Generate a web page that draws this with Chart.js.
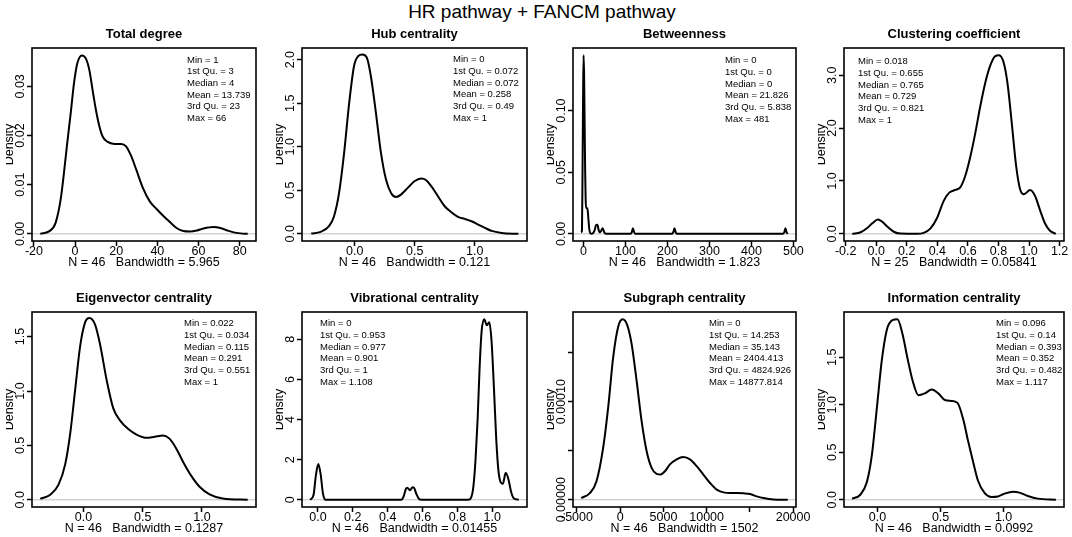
<!DOCTYPE html>
<html>
<head>
<meta charset="utf-8">
<title>HR pathway + FANCM pathway</title>
<script src="https://cdn.jsdelivr.net/npm/chart.js@4.4.1/dist/chart.umd.min.js"></script>
<style>
  html, body { margin: 0; padding: 0; background: #fff; }
  body { width: 1072px; height: 537px; overflow: hidden; position: relative; }
  #mainTitle {
    position: absolute; left: 6px; top: 1px; width: 1072px;
    text-align: center; font: 19px/22px "Liberation Sans", Arial, sans-serif; color: #000;
  }
  .panel { position: absolute; overflow: hidden; }
  .panel canvas { position: absolute; top: 0; }
</style>
</head>
<body>
<div id="mainTitle">HR pathway + FANCM pathway</div>
<script>
const FONT = '"Liberation Sans", Arial, sans-serif';

// ---- Total degree
const totalDegreeX = [-16.9, -12.7, -9.5, -7.0, -5.4, -3.8, -2.1, -0.5, 1.1, 3.3, 5.2, 6.9, 8.5, 10.1, 11.8, 13.4, 15.8, 19.1, 22.4, 24.8, 27.3, 29.7, 33.0, 36.3, 39.5, 42.8, 46.1, 49.3, 52.6, 55.9, 59.2, 62.4, 67.3, 70.6, 73.9, 77.1, 80.4, 83.9];
const totalDegreeY = [0.0000, 0.0005, 0.0022, 0.0070, 0.0124, 0.0185, 0.0246, 0.0307, 0.0347, 0.0363, 0.0357, 0.0334, 0.0293, 0.0253, 0.0219, 0.0198, 0.0187, 0.0183, 0.0183, 0.0178, 0.0158, 0.0131, 0.0093, 0.0066, 0.0051, 0.0037, 0.0024, 0.0012, 0.0006, 0.0005, 0.0007, 0.0011, 0.0014, 0.0012, 0.0007, 0.0003, 0.0001, 0.0000];
const totalDegreeXTicks = [-20, 0, 20, 40, 60, 80];
const totalDegreeXLabels = ['-20', '0', '20', '40', '60', '80'];
const totalDegreeYTicks = [0, 0.01, 0.02, 0.03];
const totalDegreeYLabels = ['0.00', '0.01', '0.02', '0.03'];
const totalDegreeStats = ['Min = 1', '1st Qu. = 3', 'Median = 4', 'Mean = 13.739', '3rd Qu. = 23', 'Max = 66'];

// ---- Hub centrality
const hubX = [-0.363, -0.285, -0.215, -0.173, -0.131, -0.089, -0.047, -0.006, 0.028, 0.064, 0.101, 0.134, 0.176, 0.218, 0.260, 0.302, 0.344, 0.385, 0.441, 0.497, 0.553, 0.595, 0.637, 0.693, 0.749, 0.804, 0.860, 0.916, 0.972, 1.028, 1.084, 1.140, 1.223, 1.363];
const hubY = [0.004, 0.023, 0.088, 0.203, 0.470, 0.929, 1.50, 1.93, 2.04, 2.06, 2.02, 1.81, 1.39, 0.929, 0.623, 0.470, 0.424, 0.451, 0.528, 0.604, 0.635, 0.616, 0.547, 0.432, 0.317, 0.249, 0.195, 0.172, 0.145, 0.107, 0.069, 0.034, 0.011, 0.000];
const hubXTicks = [0, 0.5, 1];
const hubXLabels = ['0.0', '0.5', '1.0'];
const hubYTicks = [0, 0.5, 1, 1.5, 2];
const hubYLabels = ['0.0', '0.5', '1.0', '1.5', '2.0'];
const hubStats = ['Min = 0', '1st Qu. = 0.072', 'Median = 0.072', 'Mean = 0.258', '3rd Qu. = 0.49', 'Max = 1'];

// ---- Betweenness
const betweenX = [-5.5, -3.8, -2.5, -1.2, 0, 1.2, 2.5, 3.8, 5.0, 6.0, 8.0, 9.8, 11.5, 13.5, 16, 20, 26, 30, 33, 36, 38.5, 42, 45.5, 49, 52, 55, 112, 115, 117.6, 120.2, 123, 211, 214, 216.7, 219.4, 222, 475, 478.5, 481, 483.5, 486.5];
const betweenY = [0.001, 0.003, 0.05, 0.11, 0.145, 0.13, 0.09, 0.05, 0.027, 0.021, 0.021, 0.019, 0.012, 0.004, 0.0005, 0.0001, 0.0025, 0.0072, 0.0073, 0.003, 0.0012, 0.0025, 0.0045, 0.0015, 0.0002, 0, 0, 0.0015, 0.0046, 0.0015, 0, 0, 0.0015, 0.0046, 0.0015, 0, 0, 0.0015, 0.0046, 0.0015, 0];
const betweenXTicks = [0, 100, 200, 300, 400, 500];
const betweenXLabels = ['0', '100', '200', '300', '400', '500'];
const betweenYTicks = [0, 0.05, 0.10];
const betweenYLabels = ['0.00', '0.05', '0.10'];
const betweenStats = ['Min = 0', '1st Qu. = 0', 'Median = 0', 'Mean = 21.826', '3rd Qu. = 5.838', 'Max = 481'];

// ---- Clustering coefficient
const clusterX = [-0.157, -0.102, -0.059, -0.026, 0.011, 0.039, 0.072, 0.115, 0.159, 0.267, 0.311, 0.354, 0.398, 0.441, 0.478, 0.517, 0.550, 0.583, 0.615, 0.648, 0.680, 0.713, 0.746, 0.778, 0.804, 0.833, 0.859, 0.887, 0.915, 0.941, 0.967, 1.007, 1.039, 1.072, 1.104, 1.137, 1.175];
const clusterY = [0, 0.03, 0.11, 0.20, 0.27, 0.23, 0.14, 0.04, 0.005, 0, 0.02, 0.10, 0.30, 0.62, 0.78, 0.83, 0.88, 1.10, 1.45, 1.90, 2.40, 2.85, 3.18, 3.36, 3.38, 3.25, 2.85, 2.10, 1.30, 0.85, 0.75, 0.83, 0.72, 0.45, 0.20, 0.06, 0];
const clusterXTicks = [-0.2, 0, 0.2, 0.4, 0.6, 0.8, 1.0, 1.2];
const clusterXLabels = ['-0.2', '0.0', '0.2', '0.4', '0.6', '0.8', '1.0', '1.2'];
const clusterYTicks = [0, 1, 2, 3];
const clusterYLabels = ['0.0', '1.0', '2.0', '3.0'];
const clusterStats = ['Min = 0.018', '1st Qu. = 0.655', 'Median = 0.765', 'Mean = 0.729', '3rd Qu. = 0.821', 'Max = 1'];

// ---- Eigenvector centrality
const eigenX = [-0.364, -0.280, -0.210, -0.154, -0.112, -0.070, -0.028, 0.014, 0.050, 0.098, 0.140, 0.196, 0.252, 0.308, 0.378, 0.448, 0.532, 0.602, 0.672, 0.728, 0.784, 0.840, 0.910, 0.980, 1.064, 1.176, 1.386];
const eigenY = [0.009, 0.047, 0.140, 0.326, 0.606, 1.01, 1.41, 1.63, 1.67, 1.61, 1.43, 1.10, 0.84, 0.73, 0.65, 0.60, 0.57, 0.58, 0.59, 0.56, 0.47, 0.35, 0.22, 0.12, 0.05, 0.012, 0];
const eigenXTicks = [0, 0.5, 1];
const eigenXLabels = ['0.0', '0.5', '1.0'];
const eigenYTicks = [0, 0.5, 1, 1.5];
const eigenYLabels = ['0.0', '0.5', '1.0', '1.5'];
const eigenStats = ['Min = 0.022', '1st Qu. = 0.034', 'Median = 0.115', 'Mean = 0.291', '3rd Qu. = 0.551', 'Max = 1'];

// ---- Vibrational centrality
const vibX = [-0.044, -0.025, -0.012, 0.002, 0.015, 0.029, 0.044, 0.478, 0.491, 0.505, 0.512, 0.528, 0.543, 0.551, 0.564, 0.580, 0.593, 0.862, 0.877, 0.891, 0.904, 0.916, 0.927, 0.939, 0.954, 0.969, 0.983, 0.996, 1.010, 1.023, 1.036, 1.050, 1.061, 1.077, 1.092, 1.108, 1.123, 1.152];
const vibY = [0, 0.25, 1.20, 1.78, 1.30, 0.30, 0, 0, 0.15, 0.55, 0.60, 0.48, 0.62, 0.60, 0.30, 0.04, 0, 0, 0.08, 0.60, 2.00, 4.00, 6.50, 8.40, 9.00, 8.70, 8.85, 7.90, 5.50, 3.00, 1.40, 0.85, 0.80, 1.35, 1.05, 0.40, 0.08, 0];
const vibXTicks = [0, 0.2, 0.4, 0.6, 0.8, 1.0];
const vibXLabels = ['0.0', '0.2', '0.4', '0.6', '0.8', '1.0'];
const vibYTicks = [0, 2, 4, 6, 8];
const vibYLabels = ['0', '2', '4', '6', '8'];
const vibStats = ['Min = 0', '1st Qu. = 0.953', 'Median = 0.977', 'Mean = 0.901', '3rd Qu. = 1', 'Max = 1.108'];

// ---- Subgraph centrality
const subgraphX = [-4506, -3516, -2743, -1971, -1391, -811, -232, 270, 811, 1314, 1893, 2473, 3053, 3632, 4212, 4675, 5178, 5757, 6530, 7303, 8076, 8849, 9621, 10394, 11167, 11940, 12713, 13485, 14258, 15031, 15804, 16577, 17736, 19384];
const subgraphY = [1.7e-6, 6.8e-6, 1.88e-5, 5.31e-5, 9.42e-5, 1.455e-4, 1.764e-4, 1.839e-4, 1.781e-4, 1.592e-4, 1.216e-4, 8.05e-5, 4.97e-5, 3.25e-5, 2.64e-5, 2.57e-5, 2.91e-5, 3.60e-5, 4.11e-5, 4.35e-5, 4.11e-5, 3.42e-5, 2.57e-5, 1.71e-5, 1.03e-5, 7.5e-6, 6.8e-6, 6.8e-6, 6.5e-6, 5.8e-6, 3.4e-6, 1.7e-6, 3e-7, 0];
const subgraphXTicks = [-5000, 0, 5000, 10000, 15000, 20000];
const subgraphXLabels = ['-5000', '0', '5000', '10000', '', '20000'];
const subgraphYTicks = [0, 0.00005, 0.0001, 0.00015];
const subgraphYLabels = ['0.00000', '', '0.00010', ''];
const subgraphStats = ['Min = 0', '1st Qu. = 14.253', 'Median = 35.143', 'Mean = 2404.413', '3rd Qu. = 4824.926', 'Max = 14877.814'];

// ---- Information centrality
const infoX = [-0.2016, -0.137, -0.084, -0.045, -0.005, 0.034, 0.074, 0.118, 0.158, 0.197, 0.239, 0.279, 0.324, 0.376, 0.429, 0.482, 0.534, 0.587, 0.634, 0.679, 0.718, 0.758, 0.797, 0.850, 0.903, 0.955, 1.008, 1.074, 1.126, 1.192, 1.271, 1.4146];
const infoY = [0.011, 0.053, 0.19, 0.47, 0.97, 1.47, 1.79, 1.89, 1.90, 1.75, 1.48, 1.25, 1.10, 1.12, 1.16, 1.12, 1.05, 1.04, 1.02, 0.85, 0.62, 0.40, 0.20, 0.07, 0.03, 0.035, 0.065, 0.085, 0.075, 0.04, 0.012, 0];
const infoXTicks = [0, 0.5, 1];
const infoXLabels = ['0.0', '0.5', '1.0'];
const infoYTicks = [0, 0.5, 1, 1.5];
const infoYLabels = ['0.0', '0.5', '1.0', '1.5'];
const infoStats = ['Min = 0.096', '1st Qu. = 0.14', 'Median = 0.393', 'Mean = 0.352', '3rd Qu. = 0.482', 'Max = 1.117'];

// panel layout (plot box edges in page pixels)
const colBoxLeft = [32, 302, 573, 844];
const colBoxRight = [256, 527, 796, 1064];
const rowBoxTop = [48, 312];
const rowBoxBottom = [241, 507];

const panels = [
  { title: 'Total degree', sub: 'N = 46   Bandwidth = 5.965', x: totalDegreeX, y: totalDegreeY, xr: [-20.93, 87.93], yr: [-0.00145, 0.0378],
    xt: totalDegreeXTicks, xl: totalDegreeXLabels, yt: totalDegreeYTicks, yl: totalDegreeYLabels, stats: totalDegreeStats, col: 0, row: 0, sx: 155, sy: 12 },
  { title: 'Hub centrality', sub: 'N = 46   Bandwidth = 0.121', x: hubX, y: hubY, xr: [-0.44, 1.435], yr: [-0.082, 2.134],
    xt: hubXTicks, xl: hubXLabels, yt: hubYTicks, yl: hubYLabels, stats: hubStats, col: 1, row: 0, sx: 151, sy: 11.5 },
  { title: 'Betweenness', sub: 'N = 46   Bandwidth = 1.823', x: betweenX, y: betweenY, xr: [-25.2, 506.2], yr: [-0.0058, 0.1508],
    xt: betweenXTicks, xl: betweenXLabels, yt: betweenYTicks, yl: betweenYLabels, stats: betweenStats, col: 2, row: 0, sx: 152, sy: 12.5 },
  { title: 'Clustering coefficient', sub: 'N = 25   Bandwidth = 0.05841', x: clusterX, y: clusterY, xr: [-0.211, 1.229], yr: [-0.135, 3.515],
    xt: clusterXTicks, xl: clusterXLabels, yt: clusterYTicks, yl: clusterYLabels, stats: clusterStats, col: 3, row: 0, sx: 14, sy: 13.5 },
  { title: 'Eigenvector centrality', sub: 'N = 46   Bandwidth = 0.1287', x: eigenX, y: eigenY, xr: [-0.434, 1.456], yr: [-0.066, 1.726],
    xt: eigenXTicks, xl: eigenXLabels, yt: eigenYTicks, yl: eigenYLabels, stats: eigenStats, col: 0, row: 1, sx: 152, sy: 11.5 },
  { title: 'Vibrational centrality', sub: 'N = 46   Bandwidth = 0.01455', x: vibX, y: vibY, xr: [-0.0915, 1.1993], yr: [-0.36, 9.36],
    xt: vibXTicks, xl: vibXLabels, yt: vibYTicks, yl: vibYLabels, stats: vibStats, col: 1, row: 1, sx: 18, sy: 11.5 },
  { title: 'Subgraph centrality', sub: 'N = 46   Bandwidth = 1502', x: subgraphX, y: subgraphY, xr: [-5462, 20339], yr: [-0.0000074, 0.0001914],
    xt: subgraphXTicks, xl: subgraphXLabels, yt: subgraphYTicks, yl: subgraphYLabels, stats: subgraphStats, col: 2, row: 1, sx: 136, sy: 11.5 },
  { title: 'Information centrality', sub: 'N = 46   Bandwidth = 0.0992', x: infoX, y: infoY, xr: [-0.266, 1.479], yr: [-0.076, 1.976],
    xt: infoXTicks, xl: infoXLabels, yt: infoYTicks, yl: infoYLabels, stats: infoStats, col: 3, row: 1, sx: 152, sy: 11.5 }
];

Chart.defaults.font.family = FONT;
Chart.defaults.color = '#000';

// box around the plot region, rotated y tick labels and the summary text
function rFrame(p) {
  return {
    id: 'rFrame',
    afterDraw(chart) {
      const ctx = chart.ctx;
      const a = chart.chartArea;
      const ys = chart.scales.y;
      ctx.save();
      ctx.strokeStyle = '#000';
      ctx.lineWidth = 1.6;
      ctx.strokeRect(a.left, a.top, a.right - a.left, a.bottom - a.top);

      ctx.fillStyle = '#000';
      ctx.font = '12.5px ' + FONT;
      ctx.textAlign = 'center';
      ctx.textBaseline = 'alphabetic';
      ys.ticks.forEach((t, i) => {
        const lab = p.yl[i];
        if (!lab) return;
        ctx.save();
        ctx.translate(a.left - 8.5, ys.getPixelForValue(t.value));
        ctx.rotate(-Math.PI / 2);
        ctx.fillText(lab, 0, 0);
        ctx.restore();
      });

      ctx.font = '9.5px ' + FONT;
      ctx.textAlign = 'left';
      ctx.textBaseline = 'middle';
      p.stats.forEach((s, i) => {
        ctx.fillText(s, a.left + p.sx, a.top + p.sy + i * 11.7);
      });
      ctx.restore();
    }
  };
}

panels.forEach(p => {
  const left = colBoxLeft[p.col], right = colBoxRight[p.col];
  const top = rowBoxTop[p.row], bottom = rowBoxBottom[p.row];
  const W = right - left + 44;
  const H = bottom - top + 26 + 29;

  const wrap = document.createElement('div');
  wrap.className = 'panel';
  wrap.style.left = (left - 26.5) + 'px';
  wrap.style.top = (top - 26) + 'px';
  wrap.style.width = (W - 3.5) + 'px';
  wrap.style.height = H + 'px';
  const canv = document.createElement('canvas');
  canv.width = W;
  canv.height = H;
  canv.style.left = '-3.5px';
  wrap.appendChild(canv);
  document.body.appendChild(wrap);

  const tickGrid = { display: true, drawOnChartArea: false, drawTicks: true, tickLength: 5, tickColor: '#000', tickWidth: 1.5 };

  new Chart(canv, {
    type: 'line',
    data: {
      datasets: [
        { data: p.x.map((v, i) => ({ x: v, y: p.y[i] })), borderColor: '#000', borderWidth: 2,
          pointRadius: 0, cubicInterpolationMode: 'monotone', fill: false },
        { data: [{ x: p.xr[0], y: 0 }, { x: p.xr[1], y: 0 }], borderColor: '#bebebe', borderWidth: 1,
          pointRadius: 0, fill: false }
      ]
    },
    options: {
      responsive: false,
      animation: false,
      events: [],
      layout: { padding: { left: 0, right: 14, top: 0, bottom: 0 } },
      plugins: {
        legend: { display: false },
        tooltip: { enabled: false },
        title: { display: true, text: p.title, fullSize: false, color: '#000',
          font: { size: 13, weight: 'bold' }, padding: { top: 4.2, bottom: 6.2 } }
      },
      scales: {
        x: {
          type: 'linear', min: p.xr[0], max: p.xr[1], bounds: 'data',
          afterBuildTicks: s => { s.ticks = p.xt.map(v => ({ value: v })); },
          afterFit: s => { s.height = 29; },
          grid: tickGrid,
          border: { display: false },
          ticks: { autoSkip: false, maxRotation: 0, minRotation: 0, padding: -2.3, color: '#000',
            font: { size: 12.5 }, callback: (v, i) => p.xl[i] },
          title: { display: true, text: p.sub, color: '#000', font: { size: 12.5 }, padding: { top: 0, bottom: 0 } }
        },
        y: {
          type: 'linear', min: p.yr[0], max: p.yr[1], bounds: 'data',
          afterBuildTicks: s => { s.ticks = p.yt.map(v => ({ value: v })); },
          afterFit: s => { s.width = 30; },
          grid: tickGrid,
          border: { display: false },
          ticks: { display: false },
          title: { display: true, text: 'Density', color: '#000', font: { size: 12.5 }, padding: 0 }
        }
      }
    },
    plugins: [rFrame(p)]
  });
});
</script>
</body>
</html>
